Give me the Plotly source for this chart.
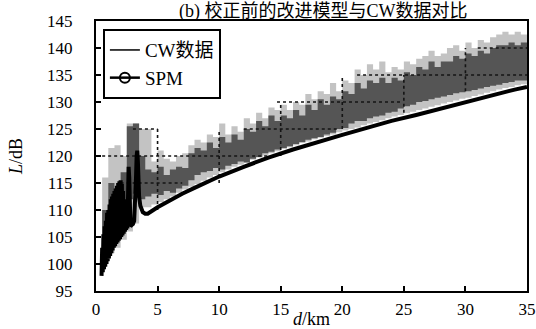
import plotly.graph_objects as go

cw_d = [0.5, 1.0, 1.5, 2.0, 2.5, 3.0, 3.5, 4.0, 4.5, 5.0, 5.5, 6.0, 6.5, 7.0, 7.5, 8.0, 8.5, 9.0, 9.5, 10.0,
        10.5, 11.0, 11.5, 12.0, 12.5, 13.0, 13.5, 14.0, 14.5, 15.0, 15.5, 16.0, 16.5, 17.0, 17.5, 18.0, 18.5,
        19.0, 19.5, 20.0, 20.5, 21.0, 21.5, 22.0, 22.5, 23.0, 23.5, 24.0, 24.5, 25.0, 25.5, 26.0, 26.5, 27.0,
        27.5, 28.0, 28.5, 29.0, 29.5, 30.0, 30.5, 31.0, 31.5, 32.0, 32.5, 33.0, 33.5, 34.0, 34.5, 35.0]
cw_dark_upper = [110, 115, 114, 117, 125.5, 126, 120, 117.5, 117, 118, 116.5, 117.5, 118, 117.8, 120.5, 121.5,
                 121, 122.5, 121.5, 123.5, 122.5, 124, 123, 125, 124.5, 126.5, 125.5, 127.5, 126.5, 127.5, 127,
                 128.5, 127.5, 129.5, 128.5, 130.5, 129.5, 131, 130.5, 132, 131.5, 133.5, 132.5, 134, 133.5,
                 134.5, 133.5, 134.5, 134, 135.5, 135, 136.5, 136, 137.5, 136.5, 137.5, 137.5, 138.5, 138, 139,
                 138.5, 139.5, 139, 140, 140.5, 140.5, 141, 140.5, 141, 140.5]
cw_dark_lower = [104, 106, 108, 110, 112, 113, 112, 112.5, 113, 112.8, 113.5, 113.2, 114, 114.5, 115.5, 116.5,
                 117, 117.2, 117.8, 117.5, 118.2, 118.5, 119, 118.8, 119.5, 119.8, 120.5, 120.8, 121.2, 121.5,
                 121.8, 122.2, 122.6, 123, 123.3, 123.5, 124, 124.3, 125, 125.2, 126, 126.5, 126.5, 127, 127.3,
                 127.5, 128, 128.2, 128.8, 129.2, 129.5, 130, 130.2, 130.5, 130.8, 131, 131.3, 131.6, 131.8, 132,
                 132.2, 132.5, 132.8, 133, 133.2, 133.5, 133.7, 134, 134, 134]
cw_light_upper = [116, 121.5, 122, 120, 126, 126, 125, 125, 119, 121, 119.5, 119, 120, 120.5, 122, 123, 122.5,
                  124, 123.5, 126, 124, 125.5, 124.5, 127, 126, 128, 127, 129, 128.5, 129.5, 128.5, 130, 129.5,
                  131.5, 130.5, 132, 131.5, 133.5, 132, 134, 133.5, 136, 135, 137, 136, 137.5, 135.5, 136.5, 136,
                  137.5, 137, 138, 138.5, 139.5, 138.5, 139, 140, 140.5, 139.5, 141, 140, 141.5, 141, 142, 142.5,
                  143, 142.5, 143, 142.5, 142]
cw_light_lower = [100, 102, 103, 104.5, 106, 107.5, 110.5, 110.5, 111, 111.5, 112, 112.5, 113.2, 113.8, 114.3,
                  114.8, 115.4, 116, 116.5, 117, 117.5, 118, 118.4, 118.8, 119.3, 119.7, 120.1, 120.5, 120.9,
                  121.3, 121.6, 122, 122.4, 122.7, 123.1, 123.4, 123.7, 124, 124.4, 124.7, 125, 125.3,
                  125.7, 126, 126.3, 126.6, 127, 127.3, 127.6, 127.9, 128.2, 128.5, 128.8, 129.1, 129.4, 129.7,
                  130, 130.3, 130.6, 130.8, 131.1, 131.4, 131.7, 132, 132.3, 132.6, 132.8, 133.1, 133.3, 133.6]

# ---- SPM model curve ----
spm_d = [0.45, 0.5, 0.55, 0.6, 0.65, 0.7, 0.75, 0.8, 0.85, 0.9, 0.95, 1.0, 1.05, 1.1, 1.15, 1.2, 1.25, 1.3,
         1.35, 1.4, 1.45, 1.5, 1.55, 1.6, 1.65, 1.7, 1.75, 1.8, 1.85, 1.9, 1.95, 2.0, 2.05, 2.1, 2.15, 2.2,
         2.25, 2.3, 2.35, 2.4, 2.45, 2.5, 2.55, 2.6, 2.65, 2.7, 2.75, 2.8, 2.9, 3.0, 3.1, 3.2, 3.25, 3.3, 3.35,
         3.4, 3.45, 3.5, 3.6, 3.7, 3.8, 4.0, 4.2, 5, 6, 7, 8, 9, 10, 12, 14, 16, 18, 20, 22, 24, 26, 28, 30,
         32, 34, 35]
spm_L = [97.8, 103, 98.5, 105.5, 99, 107, 99.5, 108, 100, 109.5, 100.5, 110, 101, 111, 101.5, 112, 102, 112.5,
         102.5, 113, 103, 113.5, 103.3, 114, 103.7, 114.5, 104, 115, 104.3, 115.3, 104.6, 115.5, 105, 114.8,
         105.3, 113.5, 105.6, 112, 106, 110.5, 106.3, 112, 106.6, 116, 118, 116, 110, 107, 107.2, 107.4, 108,
         112, 116, 120, 121, 119, 115, 112.5, 110.8, 110, 109.6, 109.3, 109.3, 110.5, 111.8, 113, 114.1, 115.2,
         116.2, 118.0, 119.7, 121.2, 122.6, 123.9, 125.2, 126.5, 127.6, 128.8, 130.0, 131.2, 132.3, 132.8]

# dotted grid fragments visible inside the data band: (level, from, to)
grid_h = [(115, 2.0, 7.0), (120, 0.5, 14.0), (125, 3.0, 5.0), (125, 12.0, 19.8), (130, 14.7, 24.9),
          (135, 21.2, 35.0), (140, 31.0, 35.0)]
grid_v = [(5, 110, 125), (10, 115, 125), (15, 120, 130), (20, 125, 135), (25, 128, 135), (30, 132, 140)]

x_ticks = [0, 5, 10, 15, 20, 25, 30, 35]
y_ticks = [95, 100, 105, 110, 115, 120, 125, 130, 135, 140, 145]

SERIF = "Liberation Serif"
SERIF_CJK = "Liberation Serif, Noto Sans CJK SC"

fig = go.Figure()

def band(lower, upper, color):
    fig.add_trace(go.Scatter(x=cw_d, y=lower, mode="lines", line=dict(width=0, shape="hv"),
                             showlegend=False, hoverinfo="skip"))
    fig.add_trace(go.Scatter(x=cw_d, y=upper, mode="lines", line=dict(width=0, shape="hv"),
                             fill="tonexty", fillcolor=color, showlegend=False, hoverinfo="skip"))

band(cw_light_lower, cw_light_upper, "rgb(195,195,195)")
band(cw_dark_lower, cw_dark_upper, "rgb(85,85,85)")

gx, gy = [], []
for lvl, a, b in grid_h:
    gx += [a, b, None]
    gy += [lvl, lvl, None]
for xv, a, b in grid_v:
    gx += [xv, xv, None]
    gy += [a, b, None]
fig.add_trace(go.Scatter(x=gx, y=gy, mode="lines", line=dict(color="rgb(20,20,20)", width=1.6, dash="dot"),
                         showlegend=False, hoverinfo="skip"))

fig.add_trace(go.Scatter(x=spm_d, y=spm_L, mode="lines", line=dict(color="black", width=4),
                         showlegend=False))

# legend entries
fig.add_trace(go.Scatter(x=[None], y=[None], mode="lines", name="CW数据",
                         line=dict(color="black", width=1.5)))
fig.add_trace(go.Scatter(x=[None], y=[None], mode="lines+markers", name="SPM",
                         line=dict(color="black", width=2.5),
                         marker=dict(symbol="circle-open", size=10, color="black", line=dict(width=2))))

axis_common = dict(showline=True, linecolor="black", linewidth=2, mirror=True, ticks="inside",
                   ticklen=5, tickwidth=1.5, tickcolor="black", showgrid=False, zeroline=False,
                   automargin=False, tickfont=dict(family=SERIF, size=17, color="black"))

fig.update_layout(
    width=536, height=329,
    margin=dict(l=96, r=9, t=21, b=38, autoexpand=False),
    paper_bgcolor="white", plot_bgcolor="white",
    font=dict(family=SERIF, size=17, color="black"),
    title=dict(text="(b) 校正前的改进模型与CW数据对比", x=0.603, xanchor="center",
               y=0.968, yanchor="middle", font=dict(family=SERIF_CJK, size=18, color="black")),
    xaxis=dict(range=[0, 35], tickvals=x_ticks, ticklabelstandoff=2,
               title=dict(text="<i>d</i>/km", font=dict(family=SERIF, size=18, color="black"), standoff=5),
               **axis_common),
    yaxis=dict(range=[95, 145], tickvals=y_ticks, ticklabelstandoff=18,
               title=dict(text="<i>L</i>/dB", font=dict(family=SERIF, size=18, color="black"), standoff=20),
               **axis_common),
    legend=dict(x=0.016, y=0.97, xanchor="left", yanchor="top", bgcolor="white", traceorder="normal",
                bordercolor="black", borderwidth=2, font=dict(family=SERIF_CJK, size=19, color="black"),
                tracegroupgap=0, itemwidth=30),
    showlegend=True,
)

fig.write_html("out.html")
